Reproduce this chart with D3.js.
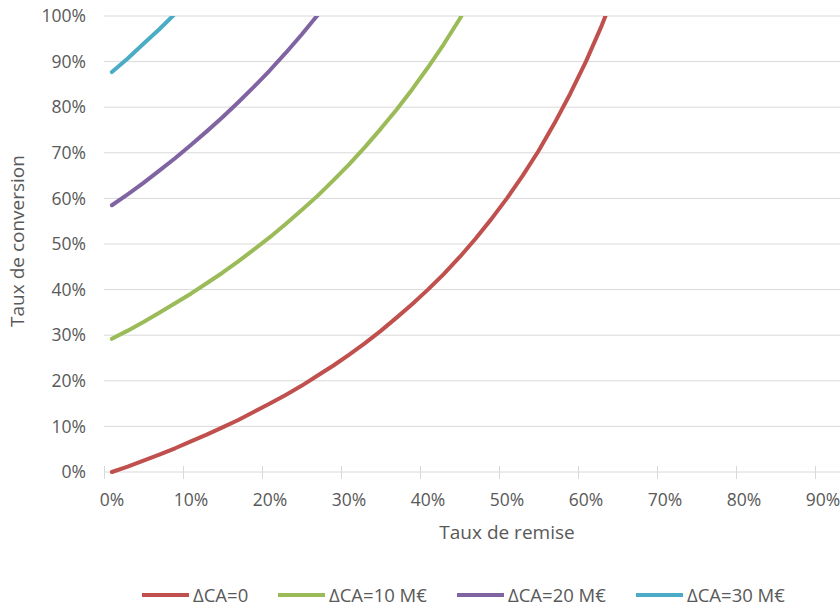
<!DOCTYPE html>
<html><head><meta charset="utf-8">
<script src="https://cdn.jsdelivr.net/npm/d3@7"></script>
<style>body{margin:0;background:#fff}svg{display:block}</style>
</head><body><svg id="c" width="840" height="605"></svg>
<script>
// Discount rate categories (%)
const categories = [0,2,4,6,8,10,12,14,16,18,20,22,24,26,28,30,32,34,36,38,40,42,44,46,48,50,52,54,56,58,60,62,64,66,68,70,72,74,76,78,80,82,84,86,88,90,92,94,96,98];
const xTickLabels = ["0%","10%","20%","30%","40%","50%","60%","70%","80%","90%"];
const yTicks = [0,10,20,30,40,50,60,70,80,90,100];
const seriesNames = ["ΔCA=0","ΔCA=10 M€","ΔCA=20 M€","ΔCA=30 M€"];
const colors = ["#C0504D","#9BBB59","#8064A2","#4BACC6"];
// Conversion rate (%) per category
const ca0  = [0,1.2,2.5,3.8,5.2,6.7,8.2,9.8,11.4,13.2,15.0,16.9,18.9,21.1,23.3,25.7,28.2,30.9,33.8,36.8,40.0,43.4,47.1,51.1,55.4,60.0,65.0,70.4,76.4,82.9,90.0,97.9,106.7];
const ca10 = [29.2,31.0,32.9,34.9,37.0,39.1,41.4,43.7,46.2,48.8,51.5,54.4,57.4,60.5,63.9,67.4,71.2,75.2,79.4,83.9,88.7,93.8,99.3,105.2];
const ca20 = [58.5,60.9,63.4,66.1,68.8,71.7,74.7,77.8,81.1,84.5,88.1,91.9,95.9,100.1,104.6];
const ca30 = [87.7,90.7,93.9,97.1,100.5,104.1];
const series = [ca0, ca10, ca20, ca30];

const W = 840, H = 605;
const mLeft = 104, mTop = 16, mBottom = 472;
const bandW = 15.8;
const svg = d3.select("#c");
const font = "'Open Sans', 'Noto Sans', sans-serif";
const txt = "#595959";

const x = d3.scaleBand().domain(categories).range([mLeft, mLeft + bandW * categories.length]).padding(0);
const y = d3.scaleLinear().domain([0, 100]).range([mBottom, mTop]);

// gridlines
svg.append("g").selectAll("line").data(yTicks).join("line")
  .attr("x1", mLeft).attr("x2", W)
  .attr("y1", d => y(d)).attr("y2", d => y(d))
  .attr("stroke", "#d9d9d9").attr("stroke-width", 1);

// y labels
const yAxis = svg.append("g").attr("transform", `translate(${mLeft - 18},0)`)
  .call(d3.axisLeft(y).tickValues(yTicks).tickSize(0).tickPadding(0).tickFormat(d => d + "%"));
yAxis.select(".domain").remove();
yAxis.selectAll("text").attr("font-family", font).attr("font-size", 17.5).attr("fill", txt);

// x axis
const tickCats = categories.filter(c => c % 10 === 0);
const xAxis = svg.append("g").attr("transform", `translate(0,${mBottom})`)
  .call(d3.axisBottom(x).tickValues(tickCats).tickSize(0).tickPadding(0)
    .tickFormat((d, i) => xTickLabels[i]));
xAxis.select(".domain").remove();
xAxis.selectAll(".tick line").remove();
xAxis.selectAll("text").attr("font-family", font).attr("font-size", 17.5).attr("fill", txt)
  .attr("y", 22).attr("dy", "0.71em");
svg.append("g").selectAll("line").data(tickCats).join("line")
  .attr("x1", d => x(d) + 0.5).attr("x2", d => x(d) + 0.5)
  .attr("y1", mBottom - 6).attr("y2", mBottom + 7)
  .attr("stroke", "#d9d9d9").attr("stroke-width", 1);

// clip
svg.append("clipPath").attr("id", "plot").append("rect")
  .attr("x", 0).attr("y", mTop).attr("width", W).attr("height", H - mTop);

const line = d3.line()
  .x((d, i) => x(categories[i]) + x.bandwidth() / 2)
  .y(d => y(d));

svg.append("g").attr("clip-path", "url(#plot)").selectAll("path").data(series).join("path")
  .attr("d", d => line(d))
  .attr("fill", "none")
  .attr("stroke", (d, i) => colors[i])
  .attr("stroke-width", 4)
  .attr("stroke-linecap", "round")
  .attr("stroke-linejoin", "round");

// axis titles
svg.append("text").attr("transform", `translate(24,241) rotate(-90)`)
  .attr("text-anchor", "middle").attr("font-family", font).attr("font-size", 19).attr("fill", txt)
  .text("Taux de conversion");
svg.append("text").attr("x", 507).attr("y", 539)
  .attr("text-anchor", "middle").attr("font-family", font).attr("font-size", 19).attr("fill", txt)
  .text("Taux de remise");

// legend
const legendX = [142, 278, 457, 636];
const lg = svg.append("g").selectAll("g").data(seriesNames).join("g")
  .attr("transform", (d, i) => `translate(${legendX[i]},595)`);
lg.append("line").attr("x1", 0).attr("x2", 47).attr("y1", 0).attr("y2", 0)
  .attr("stroke", (d, i) => colors[i]).attr("stroke-width", 4);
lg.append("text").attr("x", 51).attr("y", 6.5)
  .attr("font-family", font).attr("font-size", 18.5).attr("fill", txt)
  .text(d => d);
</script>
</body></html>
